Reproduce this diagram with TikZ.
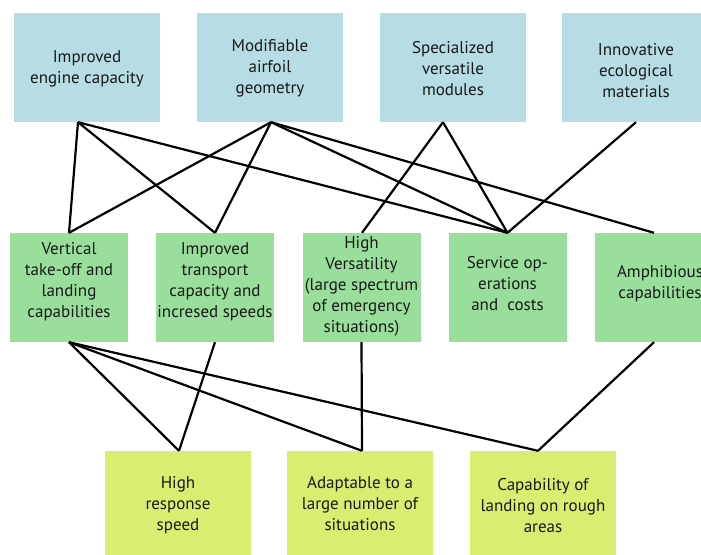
\documentclass[tikz,border=0pt]{standalone}
\usepackage{fontspec}
\setmainfont{PT Sans}
\begin{document}
\begin{tikzpicture}[x=1pt,y=-1pt,
  topbox/.style={rectangle,fill=topblue,draw=none,minimum width=146pt,minimum height=109pt,inner sep=0pt},
  midbox/.style={rectangle,fill=midgreen,draw=none,minimum width=118pt,minimum height=109pt,inner sep=0pt},
  botbox/.style={rectangle,fill=botyellow,draw=none,minimum width=146pt,minimum height=109pt,inner sep=0pt},
  txt/.style={align=center,font=\fontsize{17}{21}\selectfont,inner sep=0pt,text=black!90},
  link/.style={draw=black,line width=2.2pt}]
\definecolor{topblue}{HTML}{B5DDE3}
\definecolor{midgreen}{HTML}{9ADE9B}
\definecolor{botyellow}{HTML}{D9EE70}
\useasboundingbox (0,0) rectangle (701,554);
\clip (0,0) rectangle (701,554);
% top row
\node[topbox] (t1) at (87,67.5) {};
\node[topbox] (t2) at (270,67.5) {};
\node[topbox] (t3) at (453,67.5) {};
\node[topbox] (t4) at (635,67.5) {};
\node[txt] (t1t) at (87,69) {Improved\\engine capacity};
\node[txt] (t2t) at (270,68.5) {Modifiable\\airfoil\\geometry};
\node[txt] (t3t) at (453,68.5) {Specialized\\versatile\\modules};
\node[txt] (t4t) at (636,70.5) {Innovative\\ecological\\materials};
% middle row
\node[midbox] (m1) at (69,287.5) {};
\node[midbox] (m2) at (215,287.5) {};
\node[midbox] (m3) at (361.5,287.5) {};
\node[midbox] (m4) at (507.5,287.5) {};
\node[midbox] (m5) at (654,287.5) {};
\node[txt] (m1t) at (69,282) {Vertical\\take-off and\\landing\\capabilities};
\node[txt] (m2t) at (215,282) {Improved\\transport\\capacity and\\incresed speeds};
\node[txt] (m3t) at (361.5,286) {High\\Versatility\\(large spectrum\\of emergency\\situations)};
\node[txt] (m4t) at (507.5,283.5) {Service op-\\erations\\and\ \ costs};
\node[txt] (m5t) at (660,283.5) {Amphibious\\capabilities};
% bottom row
\node[botbox] (b1) at (178,505.5) {};
\node[botbox] (b2) at (360,505.5) {};
\node[botbox] (b3) at (543,505.5) {};
\node[txt] (b1t) at (178,505.5) {High\\response\\speed};
\node[txt] (b2t) at (360,503.5) {Adaptable to a\\large number of\\situations};
\node[txt] (b3t) at (543,505.5) {Capability of\\landing on rough\\areas};
% anchor points
\coordinate (t1s) at ([xshift=-9pt]t1.south);
\coordinate (t2s) at ([xshift=1pt]t2.south);
\coordinate (t3s) at ([xshift=-10pt]t3.south);
\coordinate (t4s) at ([xshift=1pt]t4.south);
\coordinate (m3n) at ([xshift=0.5pt]m3.north);
\coordinate (b1n) at ([xshift=1pt]b1.north);
\coordinate (b2n) at ([xshift=2pt]b2.north);
\coordinate (b3n) at ([xshift=-5pt]b3.north);
% connectors top -> middle
\draw[link] (t1s) -- (m1.north);
\draw[link] (t1s) -- (m2.north);
\draw[link] (t1s) -- (m4.north);
\draw[link] (t2s) -- (m1.north);
\draw[link] (t2s) -- (m2.north);
\draw[link] (t2s) -- (m4.north);
\draw[link] (t2s) -- (m5.north);
\draw[link] (t3s) -- (m3n);
\draw[link] (t3s) -- (m4.north);
\draw[link] (t4s) -- (m4.north);
% connectors middle -> bottom
\draw[link] (m1.south) -- (b1n);
\draw[link] (m1.south) -- (b2n);
\draw[link] (m1.south) -- (b3n);
\draw[link] (m2.south) -- (b1n);
\draw[link] (m3.south) -- (b2n);
\draw[link] (m5.south) -- (b3n);
\end{tikzpicture}
\end{document}
